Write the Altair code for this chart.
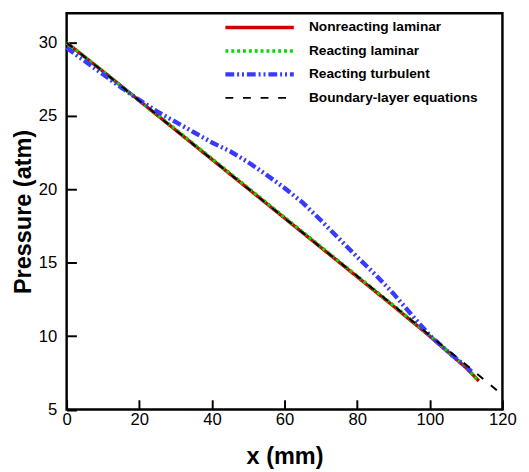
import altair as alt
import pandas as pd

series_names = ["Nonreacting laminar", "Reacting laminar", "Reacting turbulent", "Boundary-layer equations"]

x_nonreact = [0, 10, 20, 30, 40, 50, 60, 70, 80, 90, 100, 110, 113.5]
p_nonreact = [30.0, 28.05, 26.05, 24.05, 22.05, 20.05, 18.05, 16.05, 14.05, 12.05, 10.0, 7.85, 6.95]

x_react_lam = [0, 10, 20, 30, 40, 50, 60, 70, 80, 90, 100, 110, 113.0]
p_react_lam = [30.0, 28.05, 26.05, 24.1, 22.1, 20.1, 18.1, 16.1, 14.1, 12.1, 10.05, 7.9, 7.05]

x_turb = [0, 5, 10, 15, 20, 25, 30, 35, 40, 45, 50, 55, 60, 65, 70, 75, 80, 85, 90, 95, 100, 105, 111.5]
p_turb = [29.65, 28.75, 27.85, 26.95, 26.1, 25.3, 24.6, 23.9, 23.2, 22.6, 21.85, 21.0, 20.1, 19.1,
          17.9, 16.65, 15.4, 14.2, 12.9, 11.45, 10.05, 8.95, 7.6]

x_bl = [0, 10, 20, 30, 40, 50, 60, 70, 80, 90, 100, 110, 120]
p_bl = [30.0, 28.05, 26.05, 24.05, 22.05, 20.05, 18.05, 16.05, 14.1, 12.1, 10.05, 8.05, 6.0]

x_major = [0, 20, 40, 60, 80, 100, 120]
y_major = [5, 10, 15, 20, 25, 30]

colors = ["#d40000", "#00dc00", "#3a3aff", "#000000"]
dashes = [[1, 0], [3, 3], [9, 3, 2, 3, 2, 3], [8, 10]]
widths = [3.5, 3.5, 4.5, 2]

rows = []
for name, xs, ps in [
    (series_names[0], x_nonreact, p_nonreact),
    (series_names[1], x_react_lam, p_react_lam),
    (series_names[2], x_turb, p_turb),
    (series_names[3], x_bl, p_bl),
]:
    for i, (a, b) in enumerate(zip(xs, ps)):
        rows.append({"series": name, "x": a, "p": b, "i": i})
df = pd.DataFrame(rows)

FONT = "Liberation Sans"

xscale = alt.Scale(domain=[0, 120], nice=False, zero=False)
yscale = alt.Scale(domain=[5, 32], nice=False, zero=False)

legend = alt.Legend(
    title=None,
    orient="none",
    legendX=160,
    legendY=6.5,
    symbolType="stroke",
    symbolSize=4900,
    clipHeight=16,
    labelFont=FONT,
    labelFontSize=14,
    labelFontWeight="bold",
    labelColor="black",
    labelOffset=13,
    rowPadding=8,
    padding=0,
    labelLimit=400,
)

x_axis = alt.Axis(
    values=x_major, tickSize=10, tickWidth=2, offset=-10, domain=False, grid=False,
    tickColor="black", orient="bottom",
    labelAlign="center", labelBaseline="top",
    labelPadding=2, labelFontSize=17, labelFont=FONT, labelColor="black",
    title="x (mm)", titleFont=FONT, titleFontSize=24, titleFontWeight="bold", titleColor="black",
    titlePadding=18,
)
y_axis = alt.Axis(
    values=y_major, tickSize=10, tickWidth=2, offset=-10, domain=False, grid=False,
    tickColor="black", orient="left",
    labelAlign="right", labelBaseline="middle",
    labelPadding=10, labelFontSize=17, labelFont=FONT, labelColor="black",
    title="Pressure (atm)", titleFont=FONT, titleFontSize=24, titleFontWeight="bold", titleColor="black",
    titlePadding=3,
)

chart = alt.Chart(df).mark_line().encode(
    x=alt.X("x:Q", scale=xscale, axis=x_axis),
    y=alt.Y("p:Q", scale=yscale, axis=y_axis),
    order="i:Q",
    color=alt.Color("series:N", scale=alt.Scale(domain=series_names, range=colors), legend=legend),
    strokeDash=alt.StrokeDash("series:N", scale=alt.Scale(type="ordinal", domain=series_names, range=dashes), legend=legend),
    strokeWidth=alt.StrokeWidth("series:N", scale=alt.Scale(type="ordinal", domain=series_names, range=widths), legend=legend),
).properties(
    width=446,
    height=405.5,
    padding={"left": 4, "top": 0, "right": 4, "bottom": 2},
).configure_view(stroke="black", strokeWidth=2.5)

chart.save("out.html", embed_options={"renderer": "svg", "actions": False})
